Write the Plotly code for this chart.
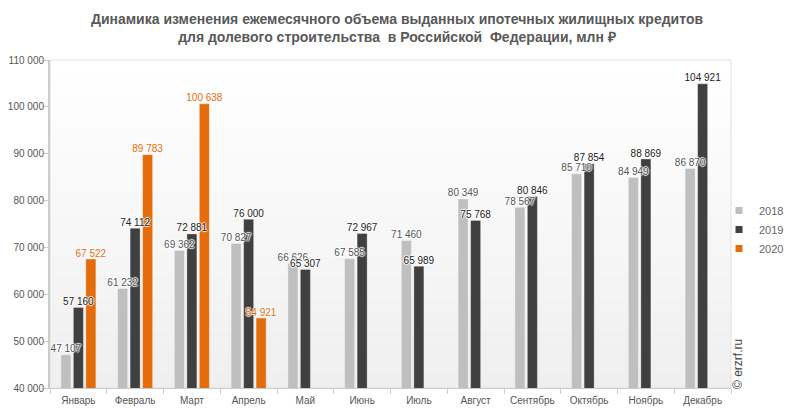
import plotly.graph_objects as go

months = ["Январь", "Февраль", "Март", "Апрель", "Май", "Июнь", "Июль",
          "Август", "Сентябрь", "Октябрь", "Ноябрь", "Декабрь"]
v2018 = [47107, 61232, 69362, 70827, 66626, 67585, 71460, 80349, 78567, 85710, 84949, 86870]
v2019 = [57160, 74112, 72881, 76000, 65307, 72967, 65989, 75768, 80846, 87854, 88869, 104921]
v2020 = [67522, 89783, 100638, 54921, None, None, None, None, None, None, None, None]
ytick_vals = [40000, 50000, 60000, 70000, 80000, 90000, 100000, 110000]

series = [
    ("2018", v2018, "#bfbfbf", "#555555"),
    ("2019", v2019, "#404040", "#222222"),
    ("2020", v2020, "#e46c0a", "#e46c0a"),
]

FONT = "Liberation Sans, Arial, sans-serif"
HALO = "1px 0 1px #fff, -1px 0 1px #fff, 0 1px 1px #fff, 0 -1px 1px #fff"

# the page body has an 8px default margin, so the figure is 8px smaller than the window
W, H = 785, 407

def fmt(v):
    return "" if v is None else f"{v:,}".replace(",", " ")

fig = go.Figure()
for name, vals, col, tcol in series:
    fig.add_trace(go.Bar(
        x=months, y=vals, name=name, offsetgroup=name, showlegend=False,
        marker=dict(color=col, line=dict(color="rgba(255,255,255,0.6)", width=0.5)),
    ))
for name, vals, col, tcol in series:
    fig.add_trace(go.Scatter(
        x=months, y=vals, name=name, offsetgroup=name, showlegend=False,
        mode="text", text=[fmt(v) for v in vals], textposition="top center",
        textfont=dict(color=tcol, size=10, family=FONT, shadow=HALO),
        cliponaxis=False, hoverinfo="skip",
    ))
for name, vals, col, tcol in series:
    fig.add_trace(go.Scatter(
        x=[None], y=[None], mode="markers", name=name,
        marker=dict(symbol="square", size=7, color=col),
    ))

n = 40
shapes = []
for i in range(n):
    t = i / (n - 1)
    g = int(round(255 - (255 - 239) * t))
    shapes.append(dict(type="rect", xref="x domain", yref="y domain",
                       x0=0, x1=1, y0=1 - (i + 1) / n, y1=1 - i / n,
                       fillcolor=f"rgb({g},{g},{g})", line=dict(width=0), layer="below"))
shapes.append(dict(type="rect", xref="x domain", yref="y domain", x0=0, x1=1, y0=0, y1=1,
                   line=dict(color="#e0e0e0", width=1), fillcolor="rgba(0,0,0,0)", layer="below"))

fig.update_layout(
    width=W, height=H,
    margin=dict(l=42, r=62, t=52, b=27, autoexpand=False),
    paper_bgcolor="white", plot_bgcolor="white",
    separators=", ",
    barmode="group", bargap=0.34, bargroupgap=0.2,
    scattermode="group", scattergap=0.34,
    font=dict(family=FONT, size=11, color="#555555"),
    title=dict(
        text="<b>Динамика изменения ежемесячного объема выданных ипотечных жилищных кредитов<br>для долевого строительства  в Российской  Федерации, млн ₽</b>",
        x=389 / W, xanchor="center", xref="container", yref="container",
        y=1 - 16 / H, yanchor="top",
        font=dict(size=14, color="#595959", family=FONT),
    ),
    shapes=shapes,
    legend=dict(xref="container", yref="container", x=711 / W, xanchor="left",
                y=1 - 188 / H, yanchor="top",
                font=dict(size=11, color="#666666"), bgcolor="rgba(0,0,0,0)",
                itemwidth=30, tracegroupgap=0, itemclick=False),
    xaxis=dict(showgrid=False, showline=True, linecolor="#cccccc", linewidth=1,
               ticks="outside", tickson="boundaries", ticklen=5, tickcolor="#cccccc",
               tickangle=0, automargin=False, ticklabelstandoff=3,
               tickfont=dict(size=10, color="#555555")),
    yaxis=dict(range=[40000, 110000], tickvals=ytick_vals, tickformat=",d",
               showgrid=False, zeroline=False, showline=True, linecolor="#cccccc", linewidth=2,
               ticks="outside", ticklen=4, tickcolor="#cccccc", automargin=False,
               ticklabelstandoff=-2,
               tickfont=dict(size=10, color="#555555")),
    annotations=[dict(text="© erzrf.ru", textangle=-90, xref="paper", yref="paper",
                      x=1.0, y=0.0, xanchor="left", yanchor="bottom", xshift=-2, yshift=-3,
                      showarrow=False, font=dict(size=12, color="#444444"))],
)

fig.write_html("out.html")
